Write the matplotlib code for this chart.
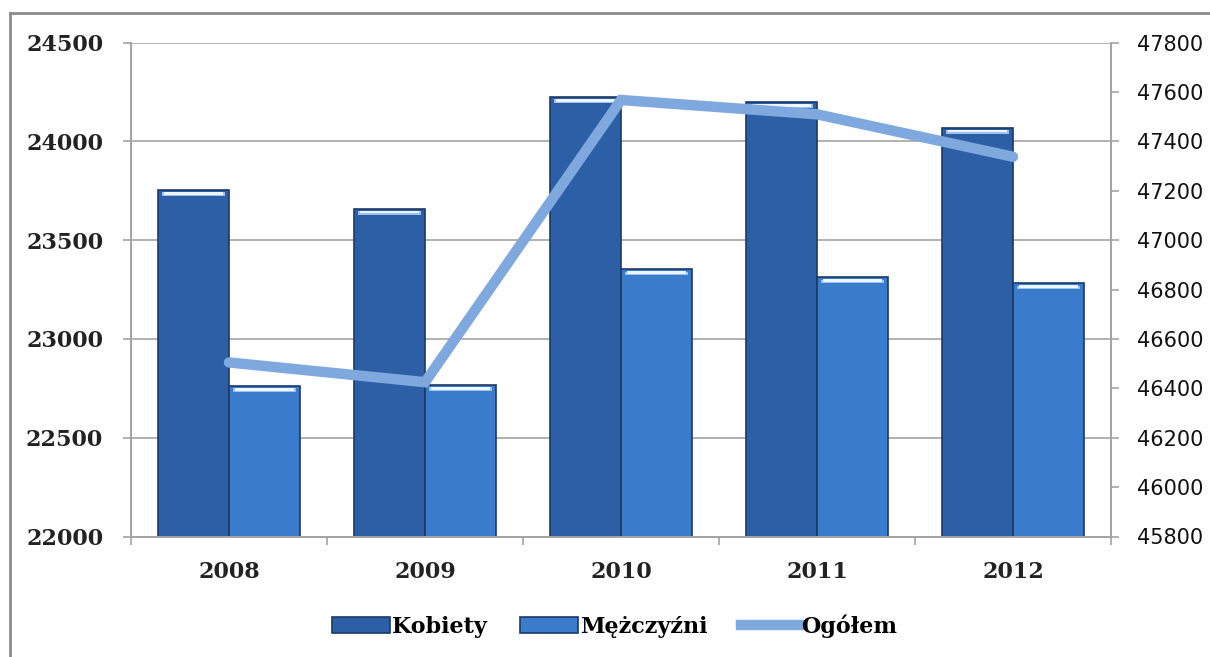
import matplotlib
matplotlib.use('Agg')
import matplotlib.pyplot as plt
from matplotlib.lines import Line2D
import numpy as np

years = ["2008", "2009", "2010", "2011", "2012"]
kobiety = [23755, 23660, 24225, 24200, 24070]
mezczyzni = [22762, 22767, 23352, 23312, 23281]
ogolem = [46505, 46425, 47568, 47510, 47338]

left_ticks = [22000, 22500, 23000, 23500, 24000, 24500]
right_ticks = [45800, 46000, 46200, 46400, 46600, 46800, 47000, 47200, 47400, 47600, 47800]

color_k = "#2D5FA6"
color_m = "#3A7BCB"
color_line = "#7FA8DE"
edge = "#1C3A66"
grid_gray = "#A3A3A3"


def plot_chart():
    fig = plt.figure(figsize=(12.1, 6.57), dpi=100)
    ax = fig.add_axes([131 / 1210, 1 - 536.5 / 657, 980 / 1210, (536.5 - 42.7) / 657])
    ax2 = ax.twinx()

    x = np.arange(len(years))
    w = 0.362

    bars_k = ax.bar(x - w / 2, kobiety, w, color=color_k, edgecolor=edge, linewidth=1.2, zorder=2)
    bars_m = ax.bar(x + w / 2, mezczyzni, w, color=color_m, edgecolor=edge, linewidth=1.2, zorder=2)

    # jasny pasek na gorze slupkow (efekt "szkla" z Excela)
    for pos, vals in [(x - w / 2, kobiety), (x + w / 2, mezczyzni)]:
        vals = np.array(vals)
        ax.bar(pos, 18, w * 0.9, bottom=vals - 30, color="#9CC3EE", linewidth=0, zorder=3)
        ax.bar(pos, 14, w * 0.84, bottom=vals - 24, color="#EEF5FD", linewidth=0, zorder=3)

    ax.set_xlim(-0.5, len(years) - 0.5)
    ax.set_ylim(22000, 24500)
    ax.set_yticks(left_ticks)
    ax.set_yticklabels([str(t) for t in left_ticks], fontfamily="DejaVu Serif",
                       fontweight="bold", fontsize=16, color="#222222")
    ax.set_xticks(x)
    ax.set_xticklabels(years, fontfamily="DejaVu Serif", fontweight="bold",
                       fontsize=16, color="#222222")
    ax.set_xticks(np.arange(len(years) + 1) - 0.5, minor=True)
    ax.tick_params(axis="x", which="major", length=0, pad=18)
    ax.tick_params(axis="x", which="minor", length=6, color=grid_gray, width=1.2)
    ax.tick_params(axis="y", length=6, color=grid_gray, width=1.2, pad=14)

    ax.grid(axis="y", color=grid_gray, linewidth=1.2)
    ax.set_axisbelow(True)

    ax2.plot(x, ogolem, color=color_line, linewidth=7.5, solid_capstyle="round",
             solid_joinstyle="miter", zorder=5)
    ax2.set_ylim(45800, 47800)
    ax2.set_yticks(right_ticks)
    ax2.set_yticklabels([str(t) for t in right_ticks], fontfamily="DejaVu Sans",
                        fontsize=15, color="#111111")
    ax2.tick_params(axis="y", length=6, color=grid_gray, width=1.2, pad=13)

    for a in (ax, ax2):
        a.spines["top"].set_visible(False)
        for s in ("left", "right", "bottom"):
            a.spines[s].set_color(grid_gray)
            a.spines[s].set_linewidth(1.2)

    handles = [bars_k, bars_m, Line2D([0], [0], color=color_line, linewidth=7.5)]
    fig.legend(handles, ["Kobiety", "Mężczyźni", "Ogółem"], loc="center",
               bbox_to_anchor=(0.508, 0.047), ncol=3, frameon=False,
               prop={"family": "DejaVu Serif", "weight": "bold", "size": 16},
               handlelength=2.6, handleheight=0.7, handletextpad=0.1,
               columnspacing=1.5)

    # ramka wykresu
    fig.add_artist(Line2D([10 / 1210, 1], [1 - 13 / 657, 1 - 13 / 657],
                          color="#8C8C8C", linewidth=2))
    fig.add_artist(Line2D([10 / 1210, 10 / 1210], [0, 1 - 13 / 657],
                          color="#8C8C8C", linewidth=2))

    fig.savefig("out.png", dpi=100, facecolor="white")


if __name__ == "__main__":
    plot_chart()
